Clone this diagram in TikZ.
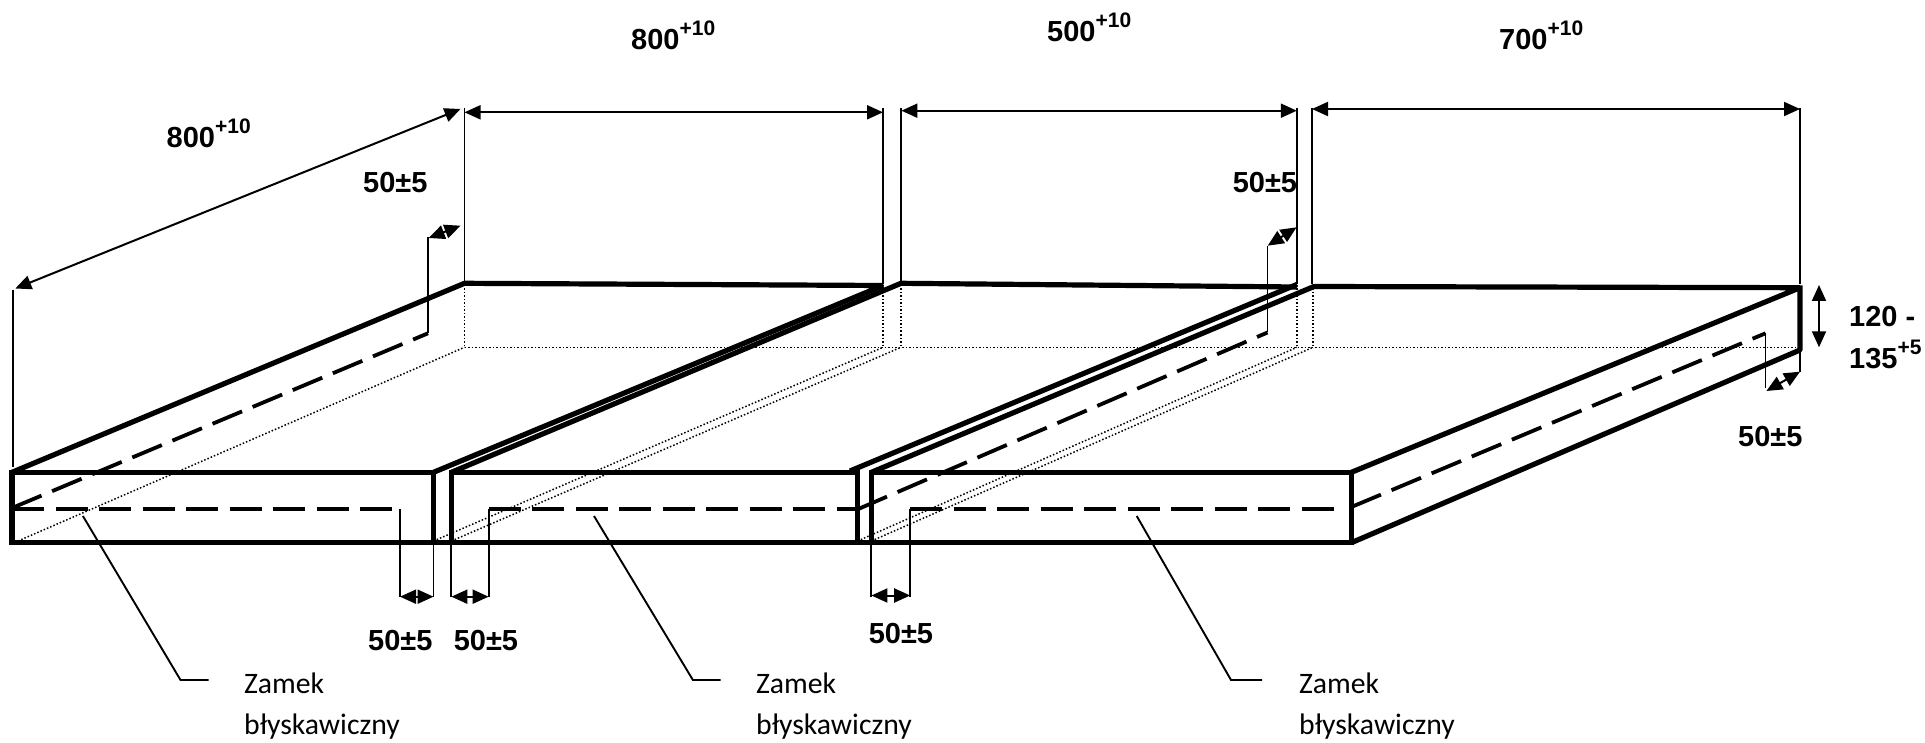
\documentclass[tikz,border=0pt]{standalone}
\usepackage{fontspec}
\usepackage{xcolor}
\setmainfont{Liberation Sans}
\newfontfamily\notefont{Carlito}
\usetikzlibrary{arrows.meta}
\newcommand{\supnum}[1]{\raisebox{14pt}{\fontsize{21}{21}\selectfont #1}}
\tikzset{
  edgeline/.style={line width=5.2pt, line join=bevel},
  zipline/.style={line width=3.8pt, dash pattern=on 32pt off 11.5pt},
  hiddenline/.style={line width=1.5pt, dash pattern=on 1.5pt off 2pt},
  thinline/.style={line width=1.9pt},
  dimline/.style={line width=2pt, {Triangle[length=16pt,width=14pt]}-{Triangle[length=16pt,width=14pt]}},
  dimtext/.style={font=\fontsize{29}{29}\selectfont\bfseries, anchor=base west, inner sep=0pt},
  notetext/.style={font=\notefont\fontsize{29.7}{41}\selectfont, anchor=north west, align=left, inner sep=0pt}
}
\begin{document}
\begin{tikzpicture}[x=1pt, y=-1pt]
\useasboundingbox (0,0) rectangle (1925,743);
% hidden edges
\draw[hiddenline] (464.5,347.3) -- (1800,347.3);
\foreach \x in {464.5,883,901,1297,1313}
    \draw[hiddenline] (\x,285) -- (\x,347.3);
\foreach \x/\y in {18/464.5, 433.5/883, 451.4/901, 857.6/1297, 871.4/1313}
    \draw[hiddenline] (\x,541) -- (\y,347.3);
% top edges
\draw[edgeline] (12,472.3) -- (464.5,283.3) -- (883,285.5) -- (433.5,472.3);
\draw[edgeline] (451.4,472.3) -- (901,283.3) -- (1296.8,287);
\draw[edgeline] (1296.8,284.5) -- (850,471);
\draw[edgeline] (871.4,472.3) -- (1314,286.5) -- (1800,287.7) -- (1351.4,472.3);
\draw[edgeline] (1800,285.5) -- (1800,350) -- (1351.4,542.7);
% front faces
\draw[edgeline] (12,472.3) -- (433.5,472.3);
\draw[edgeline] (451.4,472.3) -- (857.6,472.3);
\draw[edgeline] (871.4,472.3) -- (1351.4,472.3);
\draw[edgeline] (9.4,542.7) -- (1354,542.7);
\foreach \x in {12,433.5,451.4,857.6,871.4,1351.4}
    \draw[edgeline] (\x,470) -- (\x,545);
% zips
\draw[zipline] (12,509.3) -- (400,509.3);
\draw[zipline] (12,508) -- (428,333.3);
\draw[zipline] (488.6,509.3) -- (857.6,509.3);
\draw[zipline] (857.6,509.3) -- (1267.5,332.5);
\draw[zipline] (910.2,509.3) -- (1345,509.3);
\draw[zipline] (1351.4,507) -- (1765.5,333.3);
% extension lines
\foreach \x in {464.5,883,901.4,1296.8,1312,1800}
    \draw[thinline] (\x,108) -- (\x,284);
\draw[thinline] (13,290) -- (13,467);
\draw[thinline] (428,333) -- (428,237);
\draw[thinline] (1267.5,332) -- (1267.5,245.7);
\draw[thinline] (1765.5,333) -- (1765.5,388);
\draw[thinline] (1800,350) -- (1800,372);
\foreach \x/\y in {400/509.3, 433.5/543, 451.4/543, 488.6/509.3, 871.4/543, 910.2/509.3}
    \draw[thinline] (\x,\y) -- (\x,597);
% dimensions
\draw[dimline] (15.3,288.5) -- (460.5,109);
\draw[dimline] (464.5,112.3) -- (883,112.3);
\draw[dimline] (901.4,110.7) -- (1296.8,110.7);
\draw[dimline] (1312,109) -- (1800,109);
\draw[dimline] (1819,285) -- (1819,347.3);
\draw[dimline] (428.7,238) -- (460.5,225.7);
\draw[dimline] (1267.7,245.7) -- (1296.6,227.3);
\draw[dimline] (1766.4,391) -- (1800,371.7);
\draw[dimline] (400,596.7) -- (433.5,596.7);
\draw[dimline] (451.4,596.7) -- (488.6,596.7);
\draw[dimline] (871.4,595.5) -- (910.2,595.5);
% labels
\node[dimtext] (len) at (166.5,148) {800\supnum{+10}};
\node[dimtext] (wida) at (631,50) {800\supnum{+10}};
\node[dimtext] (widb) at (1047,41.7) {500\supnum{+10}};
\node[dimtext] (widc) at (1499,50) {700\supnum{+10}};
\node[dimtext] (zipa) at (363,192.7) {50±5};
\node[dimtext] (zipb) at (1232.6,192.7) {50±5};
\node[dimtext] (zipc) at (1738,446) {50±5};
\node[dimtext] (zipd) at (368,650) {50±5};
\node[dimtext] (zipe) at (453.6,650) {50±5};
\node[dimtext] (zipf) at (868.6,643) {50±5};
\node[dimtext] (higha) at (1849,326.7) {120 -};
\node[dimtext] (highb) at (1849,368.3) {135\supnum{+5}};
\node[notetext] (notea) at (244,672.5) {Zamek\\błyskawiczny};
\node[notetext] (noteb) at (756,672.5) {Zamek\\błyskawiczny};
\node[notetext] (notec) at (1299,672.5) {Zamek\\błyskawiczny};
\draw[thinline] (82.9,516) -- (180.5,680) -- (208.7,680);
\draw[thinline] (594,516) -- (692.9,680) -- (720.7,680);
\draw[thinline] (1136.7,516) -- (1231,680) -- (1262,680);
\end{tikzpicture}
\end{document}
